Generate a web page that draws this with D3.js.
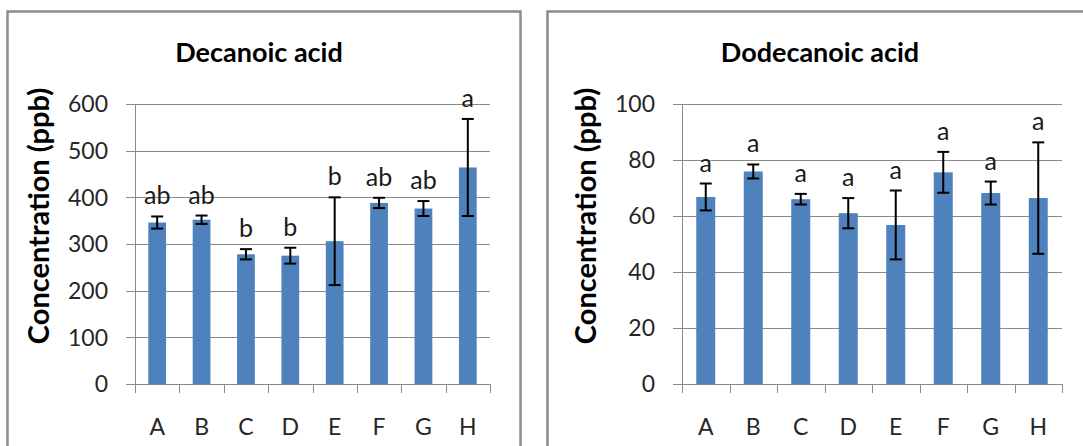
<!DOCTYPE html>
<html>
<head>
<meta charset="utf-8">
<script src="https://cdn.jsdelivr.net/npm/d3@7"></script>
<style>
  body { margin: 0; background: #fff; }
  text { font-family: Lato, "Open Sans", sans-serif; }
</style>
</head>
<body>
<script>
(function () {
    'use strict';

    const categories = ["A", "B", "C", "D", "E", "F", "G", "H"];

    const decanoicMean = [346, 352, 278, 275, 306, 388, 376, 464];
    const decanoicErr = [13, 9, 11, 17, 94, 11, 16, 104];
    const decanoicLetters = ["ab", "ab", "b", "b", "b", "ab", "ab", "a"];
    const decanoicTicks = [0, 100, 200, 300, 400, 500, 600];

    const dodecanoicMean = [66.8, 75.9, 66.0, 61.0, 56.8, 75.6, 68.2, 66.4];
    const dodecanoicErr = [4.8, 2.5, 1.9, 5.4, 12.3, 7.3, 4.1, 19.9];
    const dodecanoicLetters = ["a", "a", "a", "a", "a", "a", "a", "a"];
    const dodecanoicTicks = [0, 20, 40, 60, 80, 100];

    const width = 1083;
    const height = 446;

    const svg = d3.select("body")
        .append("svg")
        .attr("width", width)
        .attr("height", height);

    const render = (title, means, errs, letters, ticks, box) => {
        const g = svg.append("g");

        // panel frame (bottom edge is cut off by the window)
        g.append("path")
            .attr("d", `M${box.frameX},${height + 5}V${box.frameY}H${box.frameX + box.frameW}V${height + 5}`)
            .attr("fill", "none")
            .attr("stroke", "#8c8c8c")
            .attr("stroke-width", 2.5);

        const x = d3.scaleBand()
            .domain(categories)
            .range([box.left, box.right])
            .paddingInner(0.6)
            .paddingOuter(0.3);

        const y = d3.scaleLinear()
            .domain([0, d3.max(ticks)])
            .range([box.bottom, box.top]);

        // gridlines + y ticks
        g.selectAll(".grid")
            .data(ticks)
            .enter().append("line")
            .attr("x1", box.left - 9)
            .attr("x2", box.right)
            .attr("y1", d => Math.round(y(d)) + 0.5)
            .attr("y2", d => Math.round(y(d)) + 0.5)
            .attr("stroke", "#8a8a8a")
            .attr("stroke-width", 1);

        g.selectAll(".ytick")
            .data(ticks)
            .enter().append("text")
            .attr("x", box.left - 27)
            .attr("y", d => y(d))
            .attr("dy", "0.36em")
            .attr("text-anchor", "end")
            .attr("font-size", 23)
            .attr("fill", "#262626")
            .text(d => d);

        // y axis line
        g.append("line")
            .attr("x1", box.left + 0.5).attr("x2", box.left + 0.5)
            .attr("y1", box.top).attr("y2", box.bottom)
            .attr("stroke", "#8a8a8a");

        // x tick marks at band boundaries
        const step = x.step();
        const edges = d3.range(categories.length + 1).map(i => box.left + i * step);
        g.selectAll(".xtick")
            .data(edges)
            .enter().append("line")
            .attr("x1", d => Math.round(d) + 0.5)
            .attr("x2", d => Math.round(d) + 0.5)
            .attr("y1", box.bottom)
            .attr("y2", box.bottom + 9)
            .attr("stroke", "#8a8a8a");

        g.selectAll(".xlabel")
            .data(categories)
            .enter().append("text")
            .attr("x", d => x(d) + x.bandwidth() / 2)
            .attr("y", 435)
            .attr("text-anchor", "middle")
            .attr("font-size", 23)
            .attr("fill", "#262626")
            .text(d => d);

        // bars
        g.selectAll(".bar")
            .data(means)
            .enter().append("rect")
            .attr("x", (d, i) => x(categories[i]))
            .attr("y", d => y(d))
            .attr("width", x.bandwidth())
            .attr("height", d => y(0) - y(d))
            .attr("fill", "#4f81bd");

        // error bars
        const cx = i => x(categories[i]) + x.bandwidth() / 2;
        const err = g.selectAll(".err")
            .data(means)
            .enter().append("g")
            .attr("stroke", "#000")
            .attr("stroke-width", 2);
        err.append("line")
            .attr("x1", (d, i) => cx(i)).attr("x2", (d, i) => cx(i))
            .attr("y1", (d, i) => y(d + errs[i]))
            .attr("y2", (d, i) => y(d - errs[i]));
        err.append("line")
            .attr("x1", (d, i) => cx(i) - 6).attr("x2", (d, i) => cx(i) + 6)
            .attr("y1", (d, i) => y(d + errs[i]))
            .attr("y2", (d, i) => y(d + errs[i]));
        err.append("line")
            .attr("x1", (d, i) => cx(i) - 6).attr("x2", (d, i) => cx(i) + 6)
            .attr("y1", (d, i) => y(d - errs[i]))
            .attr("y2", (d, i) => y(d - errs[i]));

        // significance letters
        g.selectAll(".letter")
            .data(letters)
            .enter().append("text")
            .attr("x", (d, i) => cx(i))
            .attr("y", (d, i) => y(means[i] + errs[i]) - 12)
            .attr("text-anchor", "middle")
            .attr("font-size", 25)
            .attr("fill", "#1a1a1a")
            .text(d => d);

        // title
        g.append("text")
            .attr("x", box.titleX)
            .attr("y", 62)
            .attr("text-anchor", "middle")
            .attr("font-size", 27)
            .attr("font-weight", "bold")
            .attr("fill", "#000")
            .text(title);

        // y axis title
        g.append("text")
            .attr("transform", `translate(${box.yTitleX},${216}) rotate(-90)`)
            .attr("text-anchor", "middle")
            .attr("font-size", 29)
            .attr("font-weight", "bold")
            .attr("fill", "#000")
            .text("Concentration (ppb)");
    };

    render("Decanoic acid", decanoicMean, decanoicErr, decanoicLetters, decanoicTicks, {
        frameX: 7.5, frameY: 11.5, frameW: 513,
        left: 135, right: 490, top: 104, bottom: 384,
        titleX: 259, yTitleX: 49
    });

    render("Dodecanoic acid", dodecanoicMean, dodecanoicErr, dodecanoicLetters, dodecanoicTicks, {
        frameX: 547.5, frameY: 11.5, frameW: 560,
        left: 682, right: 1062, top: 104, bottom: 384,
        titleX: 820, yTitleX: 596
    });

}());
</script>
</body>
</html>
